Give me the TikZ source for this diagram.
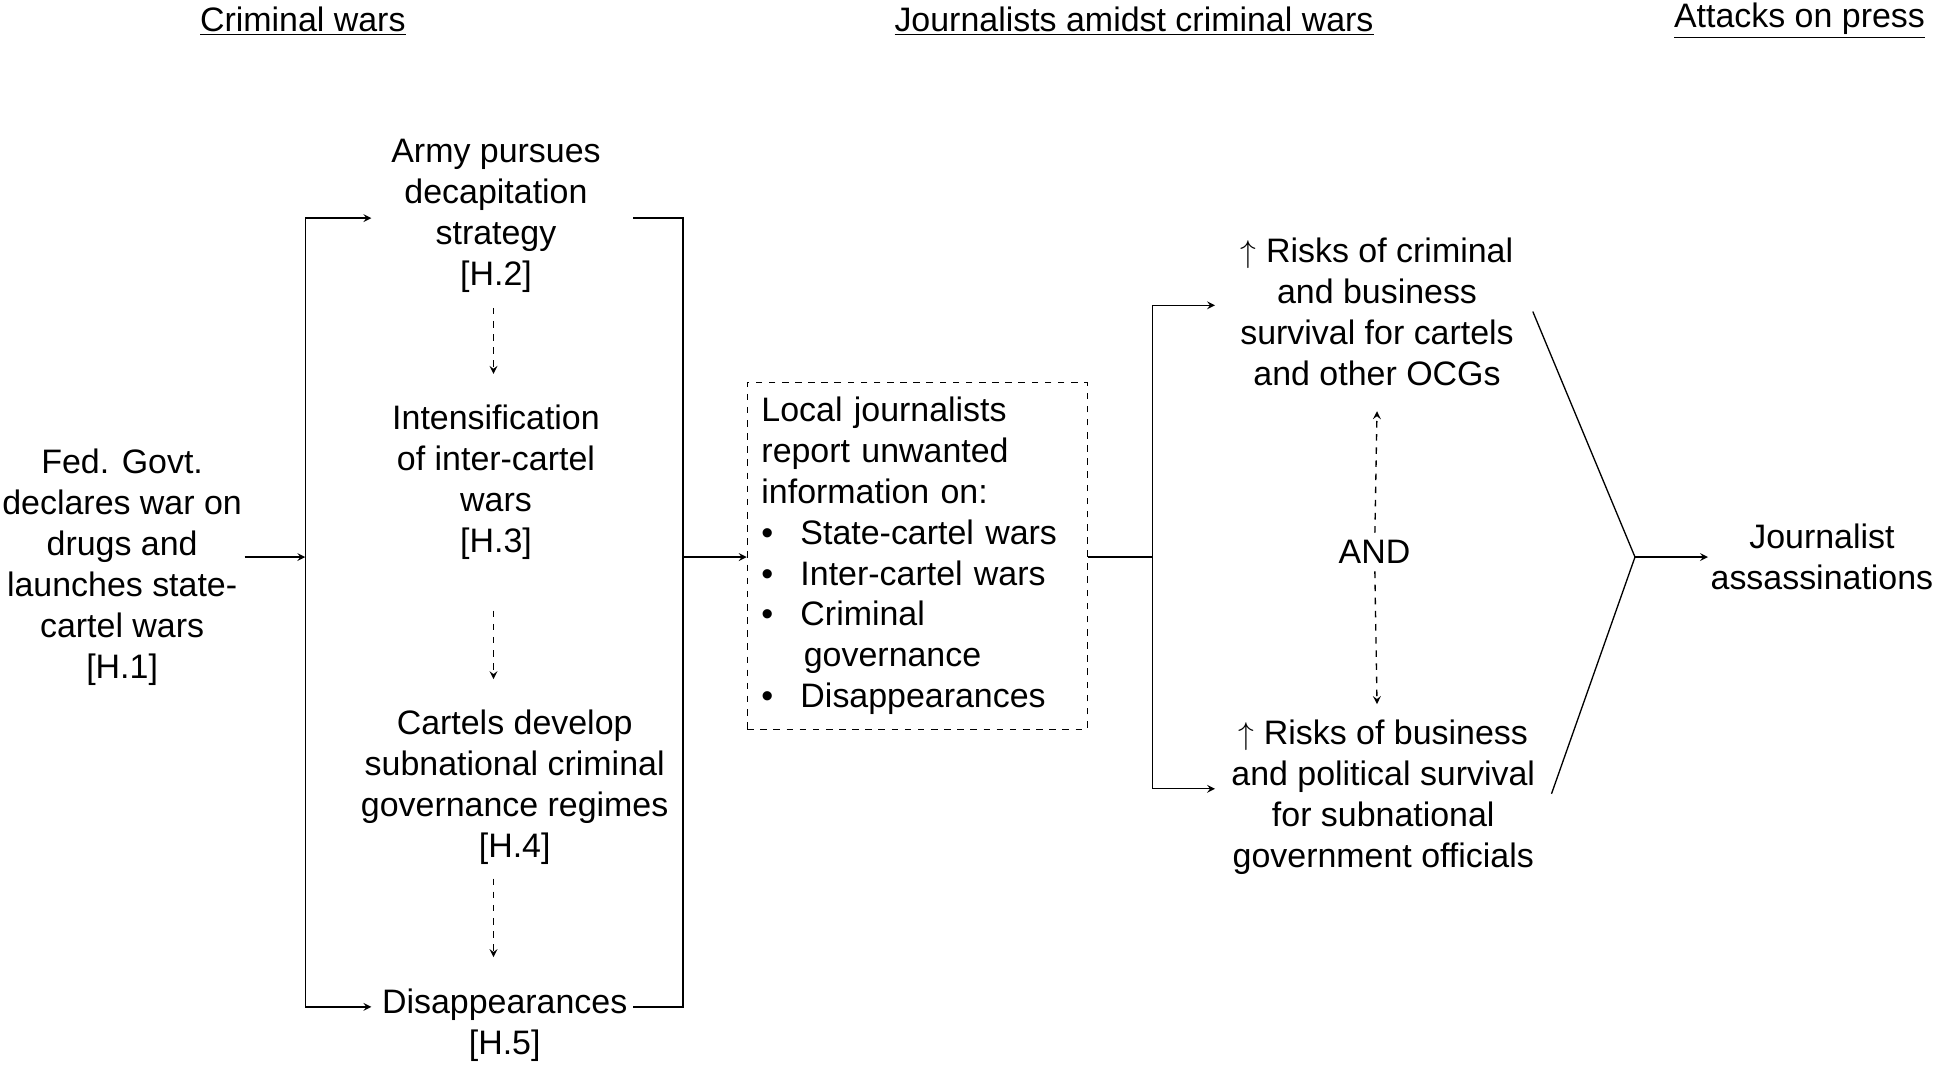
\documentclass[tikz,border=0pt]{standalone}
\usepackage{fontspec}
\setmainfont{Liberation Sans}
\usetikzlibrary{arrows, positioning}

\begin{document}
\begin{tikzpicture}[
        x=0.02cm, y=-0.02cm,
        every node/.style={font=\fontsize{15.5}{18.7}\selectfont},
        stage/.style={align=center, inner sep=1pt},
        header/.style={align=center, inner sep=1pt, font=\fontsize{15.5}{18}\selectfont},
        arrow/.style={->,>=stealth, line width=0.6pt},
        dasharrow/.style={arrow, dashed},
        link/.style={line width=0.6pt}
    ]
        \useasboundingbox (0,0) rectangle (1568,857);

        % headers
        \node[header] (hcrim) at (243,17) {\underline{Criminal wars}};
        \node[header] (hjour) at (910,17) {\underline{Journalists amidst criminal wars}};
        \node[header] (hatt) at (1444,17) {\underline{Attacks on press}};

        % criminal wars
        \node[stage] (h1) at (98,455) {Fed. Govt.\\declares war on\\drugs and\\launches state-\\cartel wars\\{[H.1]}};
        \node[stage] (h2) at (398,173) {Army pursues\\decapitation\\strategy\\{[H.2]}};
        \node[stage] (h3) at (398,387) {Intensification\\of inter-cartel\\wars\\{[H.3]}};
        \node[stage] (h4) at (413,632) {Cartels develop\\subnational criminal\\governance regimes\\{[H.4]}};
        \node[stage] (h5) at (405,823) {Disappearances\\{[H.5]}};

        \coordinate (lin) at (245,447);
        \coordinate (ltop) at (245,175);
        \coordinate (lbot) at (245,808);
        \coordinate (rtop) at (548,175);
        \coordinate (rbot) at (548,808);
        \coordinate (rmid) at (548,447);

        \draw[arrow] (h1.east |- lin) -- (lin);
        \draw[link] (ltop) -- (lbot);
        \draw[arrow] (ltop) -- (298,175);
        \draw[arrow] (lbot) -- (298,808);
        \draw[link] (508,175) -- (rtop) -- (rbot) -- (508,808);

        \draw[dasharrow] (396,247) -- (396,300);
        \draw[dasharrow] (396,490) -- (396,545);
        \draw[dasharrow] (396,705) -- (396,768);

        % journalists
        \node[draw, dashed, align=left, inner sep=0pt, minimum width=5.46cm, minimum height=5.56cm, text width=5.0cm] (local) at (736,446)
            {Local journalists\\report unwanted\\information on:\\
             \textbullet\hspace{0.8em}State-cartel wars\\
             \textbullet\hspace{0.8em}Inter-cartel wars\\
             \textbullet\hspace{0.8em}Criminal\\
             \hspace{1.25em}governance\\
             \textbullet\hspace{0.8em}Disappearances};
        \draw[arrow] (rmid) -- (local.west |- rmid);

        \coordinate (fork) at (925,447);
        \draw[link] (local.east |- fork) -- (fork);
        \draw[link] (925,245) -- (925,633);
        \node[stage] (risk1) at (1105,250) {$\uparrow$ Risks of criminal\\and business\\survival for cartels\\and other OCGs};
        \node[stage] (risk2) at (1110,640) {$\uparrow$ Risks of business\\and political survival\\for subnational\\government officials};
        \draw[arrow] (925,245) -- (975,245);
        \draw[arrow] (925,633) -- (975,633);

        \node (and) at (1103,443) {AND};
        \draw[dasharrow] (and) -- (1105,330);
        \draw[dasharrow] (and) -- (1105,565);

        % attacks
        \node[stage] (assas) at (1462,447) {Journalist\\assassinations};
        \coordinate (tip) at (1312,447);
        \draw[link] (1230,250) -- (tip) -- (1245,637);
        \draw[arrow] (tip) -- (assas.west);
    \end{tikzpicture}
\end{document}
